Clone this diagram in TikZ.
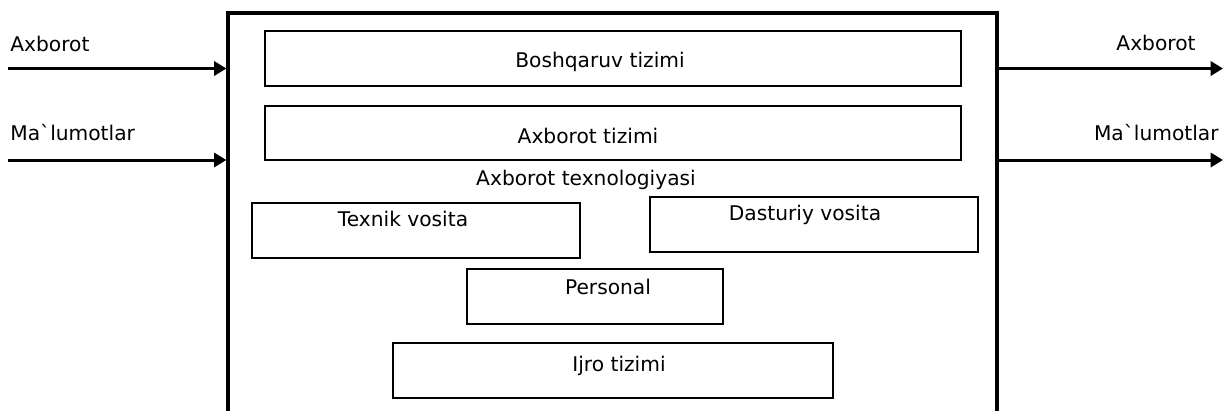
\documentclass[tikz,border=0pt]{standalone}
\usepackage{fontspec}
\setmainfont{DejaVu Sans}[Ligatures=TeXOff]
\usetikzlibrary{arrows.meta}
\begin{document}
\begin{tikzpicture}[x=0.02cm,y=-0.02cm,
  box/.style={draw, line width=1.1pt, minimum height=1.1cm, inner sep=0pt},
  txt/.style={inner sep=0pt, font=\fontsize{11.5}{13}\selectfont},
  flow/.style={line width=1.7pt, -{Triangle[length=7pt,width=8pt]}}]
\useasboundingbox (0,0) rectangle (1223,410);
\node[draw, line width=1.9pt, minimum width=15.38cm, minimum height=8.54cm, inner sep=0pt] (tizim) at (612.5,226.5){};
\node[box, minimum width=13.92cm] (boshq) at (613,58.5){};
\node[box, minimum width=13.92cm, minimum height=1.08cm] (axtiz) at (613,133){};
\node[box, minimum width=6.56cm] (texnik) at (416,230.5){};
\node[box, minimum width=6.56cm] (dastur) at (814,224.5){};
\node[box, minimum width=5.12cm] (person) at (595,296.5){};
\node[box, minimum width=8.8cm] (ijro) at (613,370.5){};
\node[txt] (boshq-t) at (600,62){Boshqaruv tizimi};
\node[txt] (axtiz-t) at (588,136){Axborot tizimi};
\node[txt] (axtex-t) at (586,180){Axborot texnologiyasi};
\node[txt] (texnik-t) at (403,219){Texnik vosita};
\node[txt] (dastur-t) at (805,215){Dasturiy vosita};
\node[txt] (person-t) at (608,287){Personal};
\node[txt] (ijro-t) at (619,366){Ijro tizimi};
\coordinate (inA) at (8,68.5);
\coordinate (inB) at (8,160);
\coordinate (outA) at (1223,68.5);
\coordinate (outB) at (1223,160);
\draw[flow] (inA) -- (inA -| tizim.west);
\draw[flow] (inB) -- (inB -| tizim.west);
\draw[flow] (tizim.east |- outA) -- (outA);
\draw[flow] (tizim.east |- outB) -- (outB);
\node[txt, anchor=west] (inA-t) at (10,44){Axborot};
\node[txt, anchor=west] (inB-t) at (10,133){Ma`lumotlar};
\node[txt] (outA-t) at (1156,43){Axborot};
\node[txt, anchor=east] (outB-t) at (1219,133){Ma`lumotlar};
\end{tikzpicture}
\end{document}
